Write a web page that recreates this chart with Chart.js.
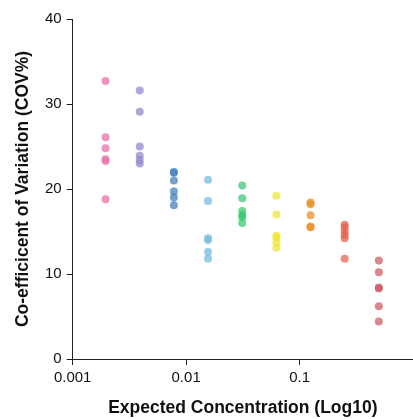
<!DOCTYPE html>
<html>
<head>
<meta charset="utf-8">
<script src="https://cdn.jsdelivr.net/npm/chart.js@4/dist/chart.umd.min.js"></script>
<style>
  body { margin: 0; background: #fff; overflow: hidden; }
  #wrap { width: 413px; height: 419px; }
  canvas { display: block; }
</style>
</head>
<body>
<div id="wrap"><canvas id="canvas" width="413" height="419"></canvas></div>
<script>
// expected concentrations (log scale x)
var concentrations = [0.00195, 0.0039, 0.0078, 0.0156, 0.03125, 0.0625, 0.125, 0.25, 0.5];

// COV% replicates at each concentration
var cov0 = [32.7, 26.1, 24.8, 23.5, 23.3, 18.8];
var cov1 = [31.6, 29.1, 25.0, 23.9, 23.4, 23.0];
var cov2 = [22.0, 21.9, 21.0, 19.7, 19.0, 18.1];
var cov3 = [21.1, 18.6, 14.2, 14.0, 12.6, 11.8];
var cov4 = [20.4, 18.9, 17.4, 16.9, 16.7, 16.0];
var cov5 = [19.2, 17.0, 14.5, 14.3, 13.7, 13.1];
var cov6 = [18.4, 18.2, 16.9, 15.6, 15.5];
var cov7 = [15.8, 15.5, 15.0, 14.6, 14.2, 11.8];
var cov8 = [11.6, 10.2, 8.4, 8.3, 6.2, 4.4];

var allCov = [cov0, cov1, cov2, cov3, cov4, cov5, cov6, cov7, cov8];
var colors = ['rgba(232,112,170,0.75)', 'rgba(150,136,204,0.75)', 'rgba(70,130,190,0.75)',
              'rgba(120,186,225,0.75)', 'rgba(50,196,110,0.7)', 'rgba(236,228,50,0.7)',
              'rgba(232,144,40,0.75)', 'rgba(226,96,76,0.72)', 'rgba(200,84,92,0.7)'];

var xTicks = [0.001, 0.01, 0.1];

var datasets = [];
for (var i = 0; i < concentrations.length; i++) {
    datasets.push({
        label: String(concentrations[i]),
        data: allCov[i].map(function (v) { return {x: concentrations[i], y: v}; }),
        backgroundColor: colors[i],
        borderWidth: 0,
        pointRadius: 4,
        pointHoverRadius: 4
    });
}

var axisColor = '#222';

config = {
    type: 'scatter',
    data: { datasets: datasets },
    options: {
        responsive: false,
        animation: false,
        // no auto padding, so the x axis runs to the right edge
        layout: { autoPadding: false, padding: { left: 9, right: 0, top: 19, bottom: 0 } },
        plugins: { legend: { display: false }, tooltip: { enabled: false } },
        scales: {
            x: {
                type: 'logarithmic',
                min: 0.001,
                max: 1,
                afterBuildTicks: function (axis) {
                    axis.ticks = xTicks.map(function (v) { return {value: v}; });
                },
                ticks: {
                    color: '#111',
                    font: { family: 'Liberation Sans', size: 15 },
                    maxRotation: 0,
                    padding: 4,
                    callback: function (v) { return String(v); }
                },
                grid: { drawOnChartArea: false, drawTicks: true, tickLength: 6, color: axisColor },
                border: { display: true, color: axisColor, width: 1 },
                title: {
                    display: true,
                    text: 'Expected Concentration (Log10)',
                    color: '#111',
                    font: { family: 'Liberation Sans', size: 17.5, weight: 'bold' },
                    padding: { top: 7, bottom: 0 }
                }
            },
            y: {
                min: 0,
                max: 40,
                ticks: {
                    stepSize: 10,
                    color: '#111',
                    font: { family: 'Liberation Sans', size: 15 },
                    padding: 5
                },
                grid: { drawOnChartArea: false, drawTicks: true, tickLength: 6, color: axisColor },
                border: { display: true, color: axisColor, width: 1 },
                title: {
                    display: true,
                    text: 'Co-efficicent of Variation (COV%)',
                    color: '#111',
                    font: { family: 'Liberation Sans', size: 17.5, weight: 'bold' },
                    padding: { top: 4, bottom: 6 }
                }
            }
        }
    }
};

window.onload = function () {
    var ctx = document.getElementById('canvas').getContext('2d');
    window.myChart = new Chart(ctx, config);
};
</script>
</body>
</html>
